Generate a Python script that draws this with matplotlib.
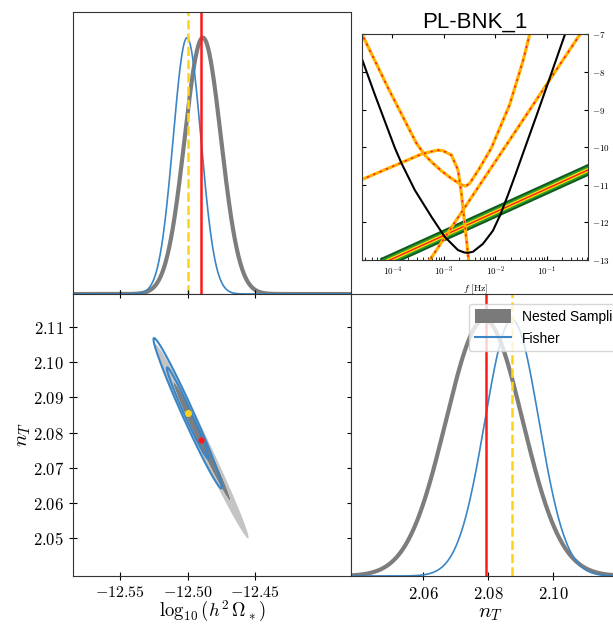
import numpy as np
import matplotlib
matplotlib.use("Agg")
import matplotlib.pyplot as plt
from matplotlib.patches import Patch
from matplotlib.lines import Line2D

plt.rcParams['mathtext.fontset'] = 'cm'

# posterior summaries
truth = [-12.4898, 2.0780]
fisher_mean = [-12.5000, 2.0855]
fisher_sig = [0.0102, 0.0086]
fisher_rho = -0.983
ns_mean = [-12.4895, 2.0775]
ns_sig = [0.0139, 0.0111]
ns_rho = -0.990
chi2_levels = [2.30, 6.18]  # 68% / 95% 2D regions

# 1D marginals (mean, sigma) as drawn
logom_ns_1d = [-12.4888, 0.0135]
logom_fi_1d = [-12.5005, 0.0103]
nT_ns_1d = [2.0788, 0.0118]
nT_fi_1d = [2.0873, 0.0083]
nT_lines_1d = [2.0792, 2.0873]  # truth, fisher in the n_T panel

logom_ticks = [-12.55, -12.50, -12.45]
nT_ticks = [2.05, 2.06, 2.07, 2.08, 2.09, 2.10, 2.11]
nT_1d_ticks = [2.06, 2.08, 2.10]

# inset: log10(f) and log10(h^2 Omega)
black_logf = [-4.62, -4.586, -4.34, -3.951, -3.821, -3.563, -3.239, -2.981, -2.722, -2.60,
              -2.528, -2.431, -2.237, -2.043, -1.90, -1.75, -1.60, -1.42, -1.20, -1.006, -0.60]
black_y = [-7.55, -7.676, -8.606, -10.02, -10.431, -11.141, -11.851, -12.383, -12.737, -12.80,
           -12.809, -12.78, -12.57, -12.22, -11.80, -11.27, -10.71, -10.02, -9.18, -8.43, -6.84]
curveA_logf = [-4.62, -4.586, -4.082, -3.80, -3.53, -3.35, -3.208, -3.045, -2.883, -2.786, -2.656,
               -2.573, -2.495, -2.301, -2.074, -1.718, -1.460, -1.330, -1.29]
curveA_y = [-6.92, -7.011, -8.428, -9.18, -9.90, -10.24, -10.43, -10.63, -10.80, -10.89, -11.0,
            -11.035, -10.963, -10.556, -10.024, -8.872, -7.718, -7.011, -6.80]
curveB_logf = [-4.62, -4.586, -3.854, -3.433, -3.175, -3.11, -3.014, -2.850, -2.722, -2.656,
               -2.592, -2.515, -2.49]
curveB_y = [-10.87, -10.856, -10.431, -10.184, -10.096, -10.08, -10.096, -10.210, -10.609, -11.229,
            -12.027, -13.0, -13.3]
curveC_logf = [-3.40, -0.25]
curveC_y = [-13.263, -6.798]
signal_logf = [-4.20, 0.0]
signal_y = [-13.094, -10.487]

red = '#ff1a1a'
gold = '#ffd21a'
blue = '#3a85c5'
gray_line = '#6f6f6f'
sans = ['Liberation Sans', 'DejaVu Sans']

fig = plt.figure(figsize=(6.13, 6.24), dpi=100)
ax_tl = fig.add_axes([0.1191, 0.5288, 0.4535, 0.4519])
ax_bl = fig.add_axes([0.1191, 0.0769, 0.4535, 0.4519])
ax_br = fig.add_axes([0.5726, 0.0769, 0.4535, 0.4519])
ax_in = fig.add_axes([0.591, 0.5833, 0.3687, 0.3617])

xlim = (-12.585, -12.379)
ylim = (2.0392, 2.1194)
xlim_br = (2.0378, 2.1233)


def gauss(x, m, s):
    return np.exp(-0.5 * ((x - m) / s) ** 2)


# top-left: marginal of log10(h^2 Omega)
xx = np.linspace(xlim[0], xlim[1], 600)
ax_tl.plot(xx, gauss(xx, *logom_ns_1d), color=gray_line, lw=3, alpha=0.9)
ax_tl.plot(xx, gauss(xx, *logom_fi_1d), color=blue, lw=1.2)
ax_tl.axvline(truth[0], color=red, lw=1.8)
ax_tl.axvline(fisher_mean[0], color=gold, lw=1.8, ls='--')
ax_tl.set_xlim(*xlim)
ax_tl.set_ylim(0, 1.1)
ax_tl.set_yticks([])
ax_tl.set_xticks(logom_ticks)
ax_tl.set_xticklabels([])
ax_tl.tick_params(direction='inout', length=6)

# bottom-left: 2D
gx, gy = np.meshgrid(np.linspace(xlim[0], xlim[1], 1200), np.linspace(ylim[0], ylim[1], 1200))


def chi2(m, s, rho):
    dx = (gx - m[0]) / s[0]
    dy = (gy - m[1]) / s[1]
    return (dx ** 2 - 2 * rho * dx * dy + dy ** 2) / (1 - rho ** 2)


c_ns = chi2(ns_mean, ns_sig, ns_rho)
c_fi = chi2(fisher_mean, fisher_sig, fisher_rho)
ax_bl.contourf(gx, gy, c_ns, levels=[0] + chi2_levels, colors=['#7d7d7d', '#c4c4c4'], antialiased=True)
ax_bl.contour(gx, gy, c_fi, levels=chi2_levels, colors=blue, linewidths=1.5)
ax_bl.plot(truth[0], truth[1], 'o', color=red, ms=3.5)
ax_bl.plot(fisher_mean[0], fisher_mean[1], 'o', color=gold, ms=4)
ax_bl.set_xlim(*xlim)
ax_bl.set_ylim(*ylim)
ax_bl.set_xticks(logom_ticks)
ax_bl.set_xticklabels(['$%.2f$' % v for v in logom_ticks], fontsize=11.5)
ax_bl.set_yticks(nT_ticks)
ax_bl.set_yticklabels(['$%.2f$' % v for v in nT_ticks], fontsize=12)
ax_bl.tick_params(direction='inout', length=6, top=True, right=True)
ax_bl.set_xlabel(r'$\log_{10}(h^2\,\Omega_*)$', fontsize=13.5, labelpad=-1)
ax_bl.set_ylabel(r'$n_T$', fontsize=15, labelpad=0)

# bottom-right: marginal of n_T
tt = np.linspace(xlim_br[0], xlim_br[1], 600)
ax_br.plot(tt, gauss(tt, *nT_ns_1d), color=gray_line, lw=3, alpha=0.9)
ax_br.plot(tt, gauss(tt, *nT_fi_1d), color=blue, lw=1.2)
ax_br.axvline(nT_lines_1d[0], color=red, lw=1.8)
ax_br.axvline(nT_lines_1d[1], color=gold, lw=1.8, ls='--')
ax_br.set_xlim(*xlim_br)
ax_br.set_ylim(0, 1.1)
ax_br.set_yticks([])
ax_br.set_xticks(nT_1d_ticks)
ax_br.set_xticklabels(['$%.2f$' % v for v in nT_1d_ticks], fontsize=12)
ax_br.tick_params(direction='inout', length=6)
ax_br.set_xlabel(r'$n_T$', fontsize=15, labelpad=0)
handles = [Patch(facecolor='#7a7a7a', edgecolor='none'), Line2D([], [], color=blue, lw=1.5)]
ax_br.legend(handles, ['Nested Sampling', 'Fisher'], loc='upper left', bbox_to_anchor=(0.40, 0.99),
             prop={'family': sans, 'size': 10}, framealpha=0.8, edgecolor='#cccccc',
             handlelength=2.6, handleheight=1.1, labelspacing=0.55, borderpad=0.4)

# inset
def fplot(lf, y, **kw):
    ax_in.plot(10 ** np.array(lf), y, **kw)


fplot(signal_logf, signal_y, color='#0f5a1e', lw=8, solid_capstyle='butt')
fplot(signal_logf, signal_y, color='#2f9b30', lw=5.2, solid_capstyle='butt')
fplot(signal_logf, signal_y, color='#ffe000', lw=2.8)
fplot(signal_logf, signal_y, color=red, lw=1.0)
for lf, y in [(curveA_logf, curveA_y), (curveB_logf, curveB_y), (curveC_logf, curveC_y)]:
    fplot(lf, y, color='#ffb300', lw=2.3)
    fplot(lf, y, color=red, lw=1.1, ls=(0, (1.5, 3)))
fplot(black_logf, black_y, color='black', lw=1.5)
ax_in.set_xscale('log')
ax_in.set_xlim(2.6e-5, 0.65)
ax_in.set_ylim(-13, -7)
ax_in.set_yticks(range(-13, -6))
ax_in.yaxis.tick_right()
ax_in.set_yticklabels(['$%d$' % v for v in range(-13, -6)], fontsize=6.5)
ax_in.set_xticks([1e-4, 1e-3, 1e-2, 1e-1])
ax_in.set_xticklabels(['$10^{-4}$', '$10^{-3}$', '$10^{-2}$', '$10^{-1}$'], fontsize=6.5)
ax_in.tick_params(which='both', direction='in', left=True, right=True, top=True, bottom=True, length=3)
ax_in.tick_params(which='minor', length=2, top=False)
ax_in.tick_params(axis='y', which='both', direction='in', pad=3)
ax_in.set_xlabel(r'$f\ [\mathrm{Hz}]$', fontsize=7, labelpad=3)
ax_in.set_title('PL-BNK_1', fontsize=16, pad=5, family=sans)

for a in [ax_tl, ax_bl, ax_br, ax_in]:
    for sp in a.spines.values():
        sp.set_color('#333333')

fig.savefig('out.png', dpi=100)
